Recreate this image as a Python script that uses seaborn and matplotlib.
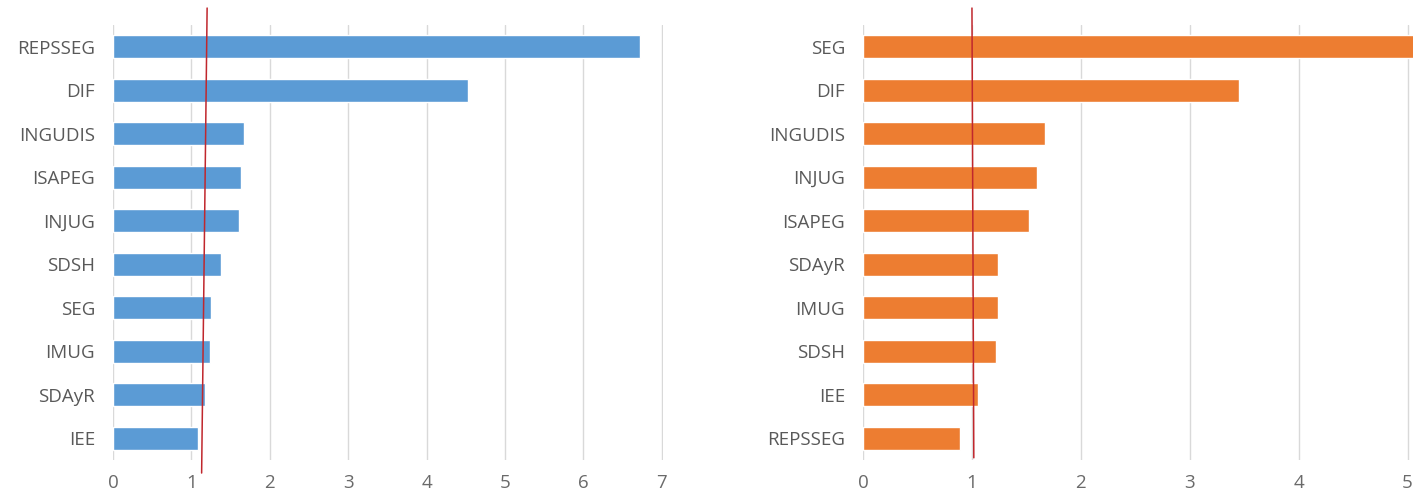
import matplotlib
matplotlib.use("Agg")
import matplotlib.pyplot as plt
import seaborn as sns
import pandas as pd

# Data
left_labels = ["REPSSEG", "DIF", "INGUDIS", "ISAPEG", "INJUG", "SDSH", "SEG", "IMUG", "SDAyR", "IEE"]
left_values = [6.72, 4.53, 1.67, 1.63, 1.61, 1.38, 1.25, 1.24, 1.17, 1.08]
right_labels = ["SEG", "DIF", "INGUDIS", "INJUG", "ISAPEG", "SDAyR", "IMUG", "SDSH", "IEE", "REPSSEG"]
right_values = [5.10, 3.45, 1.67, 1.60, 1.52, 1.24, 1.24, 1.22, 1.06, 0.89]

# reference lines (x at top, x at bottom)
left_ref = [1.20, 1.13]
right_ref = [1.00, 1.017]

left_ticks = [0, 1, 2, 3, 4, 5, 6, 7]
right_ticks = [0, 1, 2, 3, 4, 5]

sns.set_style("white")
plt.rcParams["font.family"] = ["Open Sans", "DejaVu Sans"]

fig = plt.figure(figsize=(14.13, 4.96), dpi=100)
ax1 = fig.add_axes([0.080, 0.0726, 0.3895, 0.877])
ax2 = fig.add_axes([0.6108, 0.0726, 0.3892, 0.877])


def draw(ax, labels, values, color, ticks, xmax, ref, ref_bottom):
    df = pd.DataFrame({"label": labels, "value": values})
    sns.barplot(data=df, x="value", y="label", orient="h", color=color,
                width=0.52, saturation=1, ax=ax, zorder=2)
    ax.set_xlim(0, xmax)
    ax.set_ylim(9.5, -0.5)
    ax.set_xticks(ticks)
    ax.xaxis.grid(True, color="#d9d9d9", linewidth=1)
    ax.yaxis.grid(False)
    ax.set_axisbelow(True)
    for s in ax.spines.values():
        s.set_visible(False)
    ax.set_xlabel("")
    ax.set_ylabel("")
    ax.tick_params(axis="y", length=0, pad=13, labelsize=13.5, labelcolor="#595959")
    ax.tick_params(axis="x", length=0, pad=10, labelsize=13.5, labelcolor="#6a6a6a")
    ax.plot(ref, [-0.89, ref_bottom], color="#c0272d", linewidth=1.1,
            clip_on=False, zorder=5)


draw(ax1, left_labels, left_values, "#5b9bd5", left_ticks, 7.02, left_ref, 9.8)
draw(ax2, right_labels, right_values, "#ed7d31", right_ticks, 5.05, right_ref, 9.45)

fig.savefig("out.png", dpi=100)
